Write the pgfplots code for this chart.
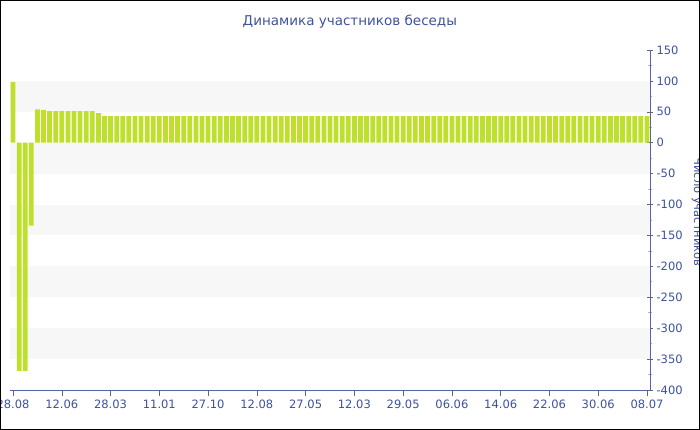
\documentclass[border=0pt]{standalone}
\usepackage{pgfplots}
\pgfplotsset{compat=1.18}
\usepackage{pgfplotstable}
\usepackage{fontspec}
\setmainfont{DejaVu Sans}
\definecolor{txtblue}{RGB}{62,82,156}
\definecolor{axblue}{RGB}{84,100,164}
\definecolor{barlime}{RGB}{190,224,44}
\definecolor{band}{RGB}{247,247,247}

\pgfplotstableread{
x y
0 98
1 -369
2 -369
3 -134
4 54
5 53
6 51
7 51
8 51
9 51
10 51
11 51
12 51
13 51
14 48
15 43
16 43
17 43
18 43
19 43
20 43
21 43
22 43
23 43
24 43
25 43
26 43
27 43
28 43
29 43
30 43
31 43
32 43
33 43
34 43
35 43
36 43
37 43
38 43
39 43
40 43
41 43
42 43
43 43
44 43
45 43
46 43
47 43
48 43
49 43
50 43
51 43
52 43
53 43
54 43
55 43
56 43
57 43
58 43
59 43
60 43
61 43
62 43
63 43
64 43
65 43
66 43
67 43
68 43
69 43
70 43
71 43
72 43
73 43
74 43
75 43
76 43
77 43
78 43
79 43
80 43
81 43
82 43
83 43
84 43
85 43
86 43
87 43
88 43
89 43
90 43
91 43
92 43
93 43
94 43
95 43
96 43
97 43
98 43
99 43
100 43
101 43
102 43
103 43
104 43
}\datatable

\begin{document}
\begin{tikzpicture}
\begin{axis}[
  at={(0pt,0pt)}, anchor=south west,
  scale only axis, width=640pt, height=340pt,
  xmin=-0.5, xmax=104.5, ymin=-400, ymax=150,
  axis x line=bottom, axis y line=right,
  axis line style={draw=axblue, line width=0.8pt, -},
  xtick={0,8,...,104},
  xticklabels={28.08,12.06,28.03,11.01,27.10,12.08,27.05,12.03,29.05,06.06,14.06,22.06,30.06,08.07},
  ytick distance=50, minor y tick num=1,
  tick align=center, major tick length=6pt, minor tick length=4pt,
  every tick/.style={draw=gray!80!black, line width=0.6pt},
  every minor tick/.style={draw=gray!60, line width=0.8pt},
  tick label style={font=\fontsize{11.5}{13}\selectfont, text=txtblue},
  /pgf/number format/assume math mode=true,
  /pgf/number format/1000 sep={},
  title={Динамика участников беседы},
  every axis title/.style={at={(rel axis cs:0.531,1.082)}, anchor=center, text=txtblue, font=\fontsize{13.5}{16}\selectfont},
  ylabel={Число участников},
  every axis y label/.style={at={(rel axis cs:1,0.5235)}, xshift=47pt, rotate=-90, anchor=center, text=txtblue, font=\fontsize{11.5}{13}\selectfont},
  ybar, bar width=0.78,
]
\fill[band] (axis cs:-0.5,50) rectangle (axis cs:104.5,100);
\fill[band] (axis cs:-0.5,-50) rectangle (axis cs:104.5,0);
\fill[band] (axis cs:-0.5,-150) rectangle (axis cs:104.5,-100);
\fill[band] (axis cs:-0.5,-250) rectangle (axis cs:104.5,-200);
\fill[band] (axis cs:-0.5,-350) rectangle (axis cs:104.5,-300);
\addplot[fill=barlime, draw=none] table[x=x,y=y]{\datatable};
\end{axis}
\pgfresetboundingbox
\path[use as bounding box] (-10pt,-40pt) rectangle (690pt,390pt);
\draw[black, line width=1pt] (-9.5pt,-39.5pt) rectangle (689.5pt,389.5pt);
\end{tikzpicture}
\end{document}
